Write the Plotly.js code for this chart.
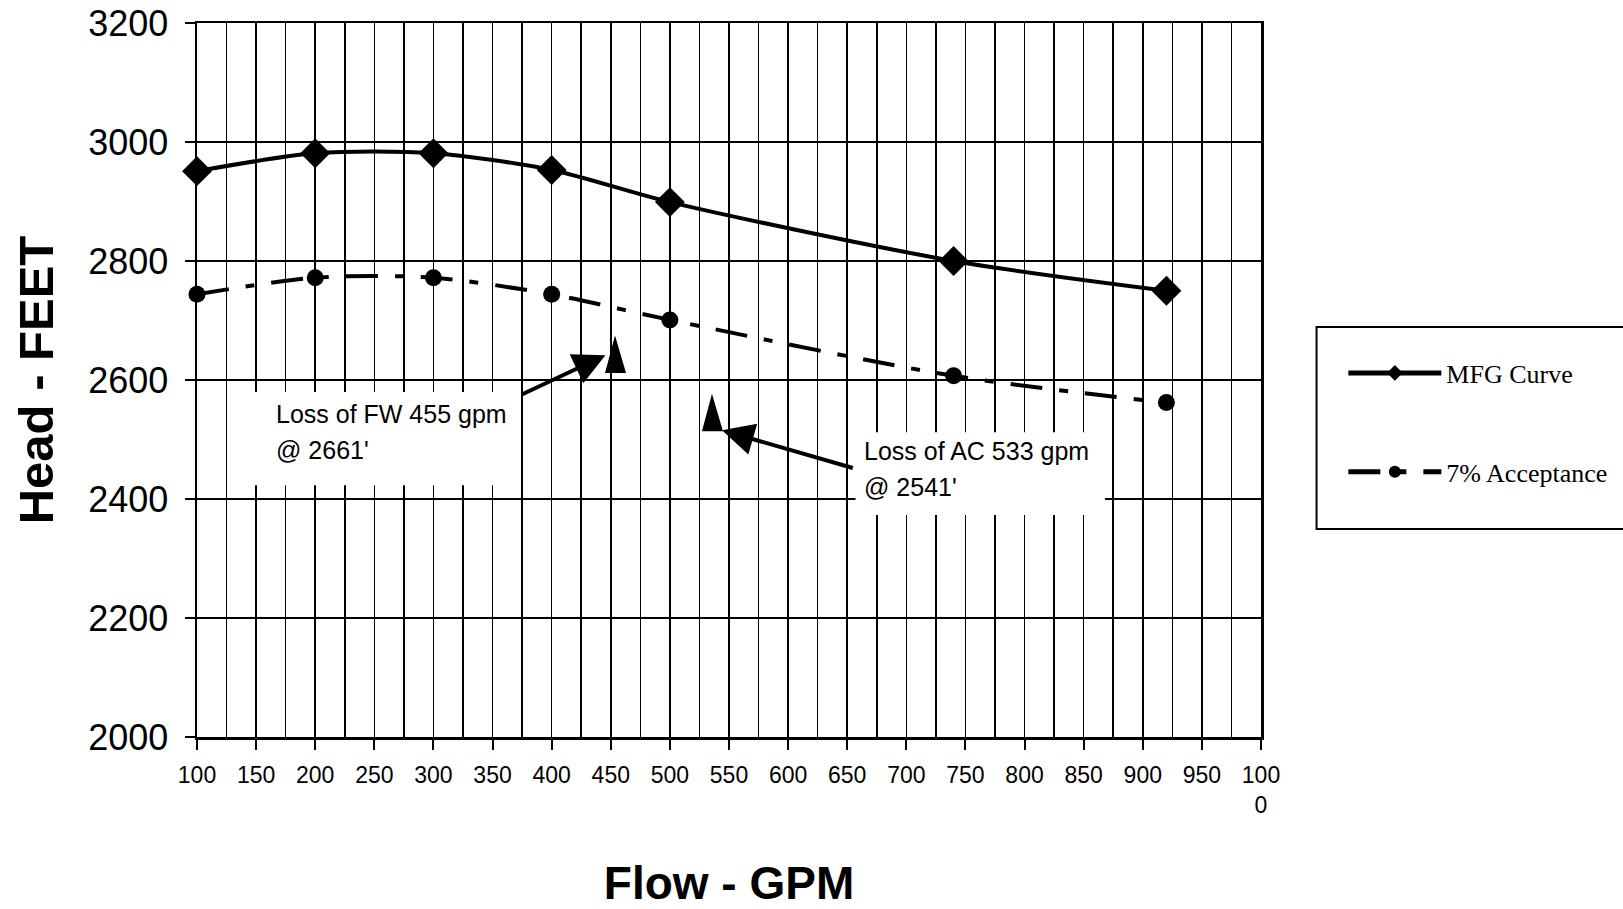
<!DOCTYPE html>
<html><head><meta charset="utf-8">
<script src="https://cdn.plot.ly/plotly-3.0.1.min.js"></script>
<style>html,body{margin:0;padding:0;background:#fff;} #chart{width:1623px;height:909px;}</style>
</head><body><div id="chart"></div>
<script>
// ---- data ----
const flowGpm    = [100, 200, 300, 400, 500, 740, 920];
const mfgHead    = [2951, 2981, 2981, 2953, 2899, 2800, 2750];
const acceptHead = [2744, 2772, 2772, 2744, 2701, 2607, 2562];

const xTickVals = [100,150,200,250,300,350,400,450,500,550,600,650,700,750,800,850,900,950,1000];
const xTickText = ['100','150','200','250','300','350','400','450','500','550','600','650','700','750','800','850','900','950','100<br>0'];
const yTickVals = [2000,2200,2400,2600,2800,3000,3200];

const lossNames = ['FW', 'AC'];
const lossFlow  = [455, 533];
const lossHead  = [2661, 2541];
// drawn triangle markers (centres as they appear on the chart)
const triFlow = [454, 536];
const triHead = [2643, 2545];

// ---- layout helpers ----
const FONT = 'Liberation Sans, Arial, Helvetica, sans-serif';
const SERIF = 'Liberation Serif, Times New Roman, serif';

const traces = [
  {
    x: flowGpm, y: mfgHead, name: 'MFG Curve', type: 'scatter', mode: 'lines+markers',
    legendgroup: 'g1', cliponaxis: false,
    line: {color: 'black', width: 4, shape: 'spline', smoothing: 0.8},
    marker: {symbol: 'diamond', size: 23, color: 'black'}
  },
  {
    x: flowGpm, y: acceptHead, name: '7% Acceptance', type: 'scatter', mode: 'lines+markers',
    legendgroup: 'g2', cliponaxis: false,
    line: {color: 'black', width: 4, shape: 'spline', smoothing: 0.8, dash: '32px,17px,9px,17px'},
    marker: {symbol: 'circle', size: 17, color: 'black'}
  }
];

const labelBoxes = [
  {x0: 137, x1: 369, y0: 2423, y1: 2580},
  {x0: 657, x1: 868, y0: 2373, y1: 2512}
];
const labelPos = [
  {x: 165.5, y1: 2543, y2: 2482},
  {x: 662.5, y1: 2480, y2: 2420}
];
const arrows = [
  {x: 445.5, y: 2641.7, ax: 373.5, ay: 2574.5},
  {x: 544.1, y: 2515.6, ax: 656, ay: 2451.3}
];

const shapes = [];
const annotations = [];
for (let i = 0; i < lossFlow.length; i++) {
  shapes.push({type: 'rect', xref: 'x', yref: 'y', layer: 'between',
    x0: labelBoxes[i].x0, x1: labelBoxes[i].x1, y0: labelBoxes[i].y0, y1: labelBoxes[i].y1,
    fillcolor: 'white', line: {width: 0}});
  shapes.push({type: 'path', xref: 'x', yref: 'y', xsizemode: 'pixel', ysizemode: 'pixel',
    xanchor: triFlow[i], yanchor: triHead[i], path: 'M -10.5 -18.5 L -0.5 19 L 10.5 -18.5 Z',
    fillcolor: 'black', line: {width: 0}, layer: 'above'});
  annotations.push({x: labelPos[i].x, y: labelPos[i].y1, xref: 'x', yref: 'y', xanchor: 'left', yanchor: 'middle',
    showarrow: false, text: 'Loss of ' + lossNames[i] + ' ' + lossFlow[i] + ' gpm',
    font: {family: FONT, size: 25, color: 'black'}});
  annotations.push({x: labelPos[i].x, y: labelPos[i].y2, xref: 'x', yref: 'y', xanchor: 'left', yanchor: 'middle',
    showarrow: false, text: '@ ' + lossHead[i] + "'",
    font: {family: FONT, size: 25, color: 'black'}});
  annotations.push({x: arrows[i].x, y: arrows[i].y, ax: arrows[i].ax, ay: arrows[i].ay,
    xref: 'x', yref: 'y', axref: 'x', ayref: 'y', text: '', showarrow: true,
    arrowhead: 2, arrowsize: 1.6, arrowwidth: 4, arrowcolor: 'black'});
}
// legend frame (runs off the right edge as in the reference)
shapes.push({type: 'rect', xref: 'paper', yref: 'paper', x0: 1.0522, x1: 1.6, y0: 0.2913, y1: 0.5742,
  line: {color: 'black', width: 2}, fillcolor: 'rgba(0,0,0,0)', layer: 'above'});

const layout = {
  width: 1623, height: 909,
  margin: {l: 197, r: 362, t: 23, b: 172, autoexpand: false},
  paper_bgcolor: 'white', plot_bgcolor: 'white',
  showlegend: true,
  legend: {x: 1.0774, xanchor: 'left', y: 0.5427, yanchor: 'top', bgcolor: 'rgba(0,0,0,0)',
    borderwidth: 0, itemwidth: 93, itemsizing: 'constant', tracegroupgap: 62,
    font: {family: SERIF, size: 26, color: 'black'}},
  xaxis: {
    range: [100, 1000], tickvals: xTickVals, ticktext: xTickText,
    showgrid: true, gridcolor: 'black', gridwidth: 1.5,
    minor: {tick0: 100, dtick: 25, showgrid: true, gridcolor: 'black', gridwidth: 1.5, ticks: ''},
    showline: true, linecolor: 'black', linewidth: 2.5, mirror: true,
    ticks: 'outside', ticklen: 10, tickwidth: 2, tickcolor: 'black',
    ticklabelstandoff: 6,
    zeroline: false,
    tickfont: {family: FONT, size: 23, color: 'black'},
    title: {text: '<b>Flow - GPM</b>', font: {family: FONT, size: 46, color: 'black'}, standoff: 55}
  },
  yaxis: {
    range: [2000, 3200], tickvals: yTickVals,
    showgrid: true, gridcolor: 'black', gridwidth: 1.8,
    showline: true, linecolor: 'black', linewidth: 2.5, mirror: true,
    ticks: 'outside', ticklen: 10, tickwidth: 2, tickcolor: 'black',
    ticklabelstandoff: 9,
    zeroline: false,
    tickfont: {family: FONT, size: 36, color: 'black'},
    title: {text: '<b>Head - FEET</b>', font: {family: FONT, size: 49, color: 'black'}, standoff: 19}
  },
  shapes: shapes,
  annotations: annotations
};

Plotly.newPlot('chart', traces, layout, {displayModeBar: false, staticPlot: true});
</script>
</body></html>
